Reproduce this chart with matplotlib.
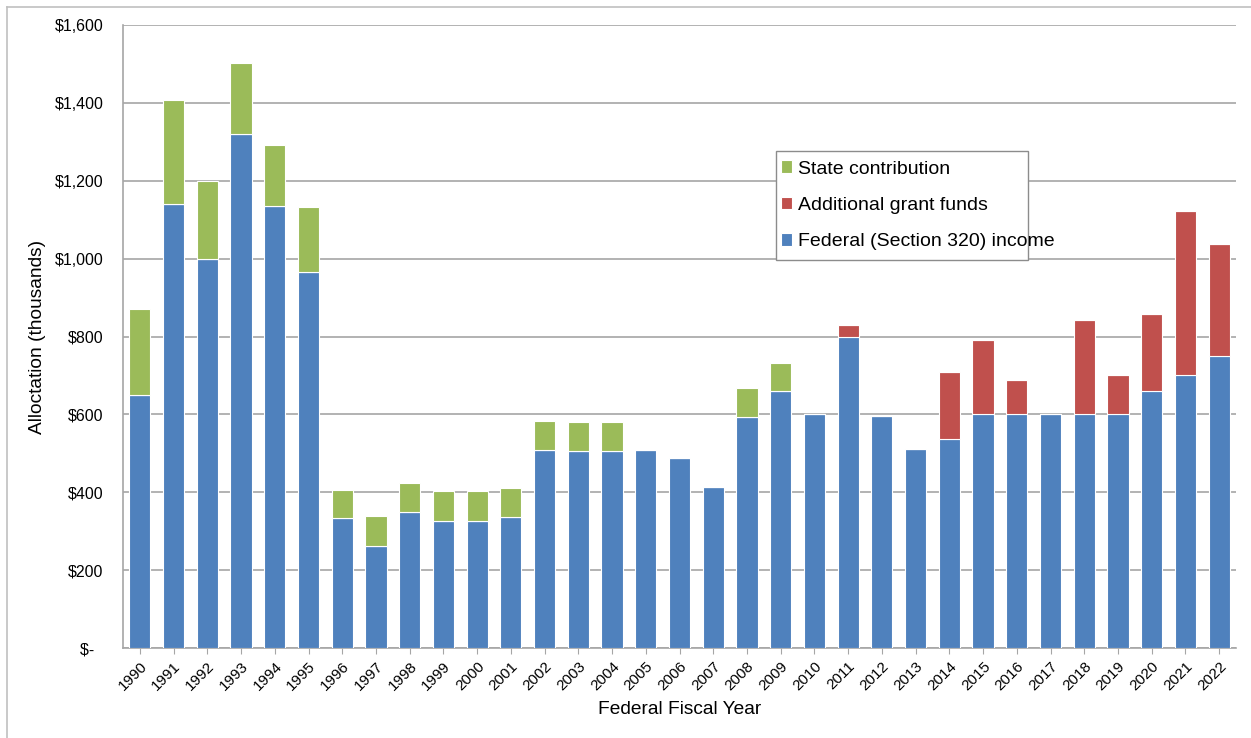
import matplotlib
matplotlib.use("Agg")
import matplotlib.pyplot as plt
from matplotlib.patches import Rectangle
from matplotlib.lines import Line2D
from matplotlib.ticker import FuncFormatter

# Allocation by federal fiscal year, in thousands of dollars
years = [str(y) for y in range(1990, 2023)]
federal = [650, 1140, 1000, 1320, 1136, 966, 333, 263, 350, 327, 327, 337,
           508, 505, 505, 508, 489, 413, 592, 660, 600, 800, 597, 510,
           538, 600, 600, 600, 600, 600, 661, 700, 750]
additional = [0, 0, 0, 0, 0, 0, 0, 0, 0, 0, 0, 0,
              0, 0, 0, 0, 0, 0, 0, 0, 0, 30, 0, 0,
              170, 192, 89, 0, 242, 101, 197, 422, 288]
state = [220, 267, 200, 182, 155, 166, 74, 77, 74, 75, 75, 74,
         75, 75, 75, 0, 0, 0, 75, 73, 0, 0, 0, 0,
         0, 0, 0, 0, 0, 0, 0, 0, 0]

blue = "#4F81BD"
red = "#C0504D"
green = "#9BBB59"

plt.rcParams["font.family"] = ["Liberation Sans", "DejaVu Sans"]

fig = plt.figure(figsize=(12.51, 7.38), dpi=100)
ax = fig.add_axes([123 / 1251, 90 / 738, 1113 / 1251, 623 / 738])

x = list(range(len(years)))
w = 0.63
ax.bar(x, federal, w, color=blue, edgecolor="white", linewidth=0.8,
       label="Federal (Section 320) income", zorder=3)
ax.bar(x, additional, w, bottom=federal, color=red, edgecolor="white",
       linewidth=0.8, label="Additional grant funds", zorder=3)
base2 = [f + a for f, a in zip(federal, additional)]
ax.bar(x, state, w, bottom=base2, color=green, edgecolor="white",
       linewidth=0.8, label="State contribution", zorder=3)

ax.set_xlim(-0.5, len(years) - 0.5)
ax.set_ylim(0, 1600)
ax.set_yticks(range(0, 1601, 200))
ax.yaxis.set_major_formatter(FuncFormatter(
    lambda v, p: "$-  " if v == 0 else "${:,.0f}".format(v)))
ax.grid(axis="y", color="#a6a6a6", linewidth=1.2, zorder=0)
ax.tick_params(axis="y", length=0, labelsize=11.5, pad=14)

ax.set_xticks(x)
ax.set_xticklabels(years, rotation=45, ha="right", rotation_mode="anchor",
                   fontsize=11)
ax.tick_params(axis="x", length=4, color="#a6a6a6", pad=4)

for s in ["top", "right"]:
    ax.spines[s].set_visible(False)
for s in ["left", "bottom"]:
    ax.spines[s].set_color("#a6a6a6")
    ax.spines[s].set_linewidth(1.2)

ax.set_xlabel("Federal Fiscal Year", fontsize=13.8, labelpad=6)
ax.set_ylabel("Alloctation (thousands)", fontsize=13.8, labelpad=6)

# legend text without frame, then a fixed box behind it
handles, labels = ax.get_legend_handles_labels()
leg = ax.legend(handles[::-1], labels[::-1], loc="upper left",
                bbox_to_anchor=(0.584, 0.795), frameon=False, fontsize=14,
                handlelength=0.6, handleheight=0.6, handletextpad=0.3,
                labelspacing=1.0, borderaxespad=0)
leg.set_zorder(6)
ax.add_patch(Rectangle((0.587, 0.623), 0.226, 0.175, transform=ax.transAxes,
                       facecolor="white", edgecolor="#8c8c8c", linewidth=1,
                       zorder=5))

# outer frame around the chart area
fig.add_artist(Line2D([7 / 1251, 1], [1 - 7 / 738, 1 - 7 / 738],
                      color="#c0c0c0", linewidth=1.2))
fig.add_artist(Line2D([7 / 1251, 7 / 1251], [0, 1 - 7 / 738],
                      color="#c0c0c0", linewidth=1.2))

fig.savefig("out.png", dpi=100)
